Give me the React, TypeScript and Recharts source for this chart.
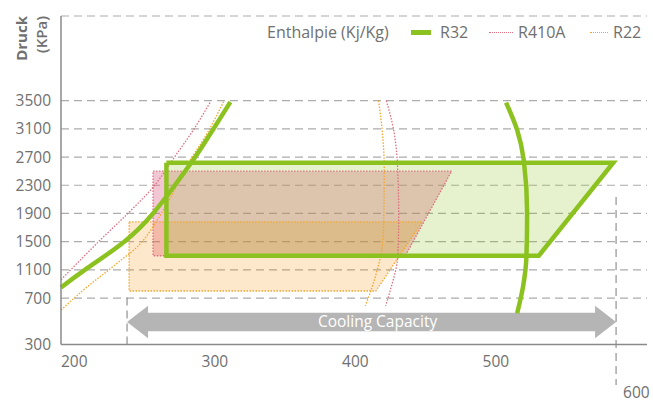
import React from 'react';
import { Area, CartesianGrid, ComposedChart, Line, ReferenceArea, ReferenceLine, XAxis, YAxis } from 'recharts';

const INK = '#707070';
const FONT = "'Open Sans', sans-serif";
const GREEN = '#8cc21f';
const RED = '#dc6f80';
const ORANGE = '#f5a52a';

// axis floor: the "300" label sits on the x axis line
const Y_FLOOR = 41;
const xTicks = [200, 300, 400, 500, 600];
const yTicks = [Y_FLOOR, 700, 1100, 1500, 1900, 2300, 2700, 3100, 3500];
const yTickLabels = ['300', '700', '1100', '1500', '1900', '2300', '2700', '3100', '3500'];

// saturation curves (enthalpy, pressure)
const r32Liquid = [
  { x: 200, y: 850 }, { x: 217, y: 1100 }, { x: 245, y: 1500 }, { x: 265.5, y: 1900 },
  { x: 281, y: 2300 }, { x: 295.5, y: 2700 }, { x: 308.5, y: 3100 }, { x: 320.5, y: 3480 },
];
const r32Vapor = [
  { x: 516.7, y: 3472 }, { x: 524.6, y: 3084 }, { x: 529.3, y: 2659 }, { x: 531.7, y: 1903 },
  { x: 531.2, y: 1287 }, { x: 528.8, y: 862 }, { x: 524.6, y: 484 },
];
const r410aLiquid = [
  { x: 200, y: 960 }, { x: 228, y: 1524 }, { x: 251.5, y: 1978 }, { x: 265.7, y: 2276 },
  { x: 282.8, y: 2758 }, { x: 294.2, y: 3084 }, { x: 306.3, y: 3482 },
];
const r410aVapor = [
  { x: 431.5, y: 3500 }, { x: 436.7, y: 3084 }, { x: 439.6, y: 2517 }, { x: 440.3, y: 1855 },
  { x: 439.6, y: 1287 }, { x: 434.4, y: 815 }, { x: 431, y: 590 },
];
const r22Liquid = [
  { x: 200, y: 530 }, { x: 216, y: 815 }, { x: 239.9, y: 1194 }, { x: 258.8, y: 1525 },
  { x: 273, y: 1950 }, { x: 292, y: 2659 }, { x: 304, y: 3038 }, { x: 315.7, y: 3486 },
];
const r22Vapor = [
  { x: 426, y: 3500 }, { x: 428.5, y: 3084 }, { x: 430, y: 2564 }, { x: 429.6, y: 1761 },
  { x: 427.8, y: 1335 }, { x: 423.7, y: 1004 }, { x: 419, y: 720 }, { x: 416.5, y: 590 },
];

// cycle boxes: top-left, top-right, bottom-right, bottom-left
const r32Box = [{ x: 275, y: 2620 }, { x: 593, y: 2620 }, { x: 540, y: 1300 }, { x: 275, y: 1300 }];
const r410aBox = [{ x: 265.5, y: 2500 }, { x: 478, y: 2500 }, { x: 445, y: 1300 }, { x: 265.5, y: 1300 }];
const r22Box = [{ x: 248.5, y: 1780 }, { x: 457, y: 1780 }, { x: 424, y: 800 }, { x: 248.5, y: 800 }];

const capacity = { from: 247, to: 595, low: 130, high: 590 };

const outline = (box: { x: number; y: number }[]) => [...box, box[0]];
const fillRows = (box: { x: number; y: number }[]) => {
  const [tl, tr, br, bl] = box;
  return [
    { x: bl.x, range: [bl.y, tl.y] },
    { x: br.x, range: [br.y, tl.y] },
    { x: tr.x, range: [tr.y, tr.y] },
  ];
};

function XTick({ x, payload }: any) {
  const last = payload.value === 600;
  return (
    <text x={x} y={last ? 398 : 367} textAnchor="start" fill={INK} fontSize={15.5} fontFamily={FONT}>
      {payload.value}
    </text>
  );
}

function CapacityArrow(props: any) {
  const { x, y, width, height } = props;
  const head = 21;
  const mid = y + height / 2;
  const half = height * 0.285;
  const pts = [
    [x, mid], [x + head, y], [x + head, mid - half], [x + width - head, mid - half],
    [x + width - head, y], [x + width, mid], [x + width - head, y + height],
    [x + width - head, mid + half], [x + head, mid + half], [x + head, y + height],
  ];
  return (
    <g>
      <polygon points={pts.map((p) => p.join(',')).join(' ')} fill="#b5b5b5" />
      <text x={x + width / 2 + 6} y={mid} dy="0.35em" textAnchor="middle" fill="#fff" fontSize={15.5} fontFamily={FONT}>
        Cooling Capacity
      </text>
    </g>
  );
}

function AxisTitle() {
  return (
    <g fill={INK} fontFamily={FONT} fontSize={15} fontWeight={700}>
      <text transform="translate(27,16) rotate(-90)" textAnchor="end">Druck</text>
      <text transform="translate(46.5,16) rotate(-90)" textAnchor="end" fontWeight={600}>(KPa)</text>
    </g>
  );
}

const legendText: React.CSSProperties = { position: 'absolute', top: 21, fontSize: 16, lineHeight: '22px', color: INK };

export default function App() {
  return (
    <div style={{ position: 'absolute', left: 0, top: 0, width: 653, height: 403, fontFamily: FONT, background: '#fff' }}>
      <ComposedChart width={653} height={403} margin={{ top: 16, right: 6, left: 0, bottom: 28.5 }}>
        <CartesianGrid vertical={false} stroke="#acacac" strokeWidth={1.2} strokeDasharray="8 5" />
        <XAxis
          type="number"
          dataKey="x"
          domain={[200, 617]}
          ticks={xTicks}
          height={30}
          tickLine={false}
          axisLine={{ stroke: '#8a8a8a', strokeWidth: 1.5 }}
          tick={<XTick />}
        />
        <YAxis
          type="number"
          dataKey="y"
          domain={[Y_FLOOR, 4701]}
          ticks={yTicks}
          width={61}
          tickLine={false}
          tickMargin={4}
          axisLine={{ stroke: '#8a8a8a', strokeWidth: 1.5 }}
          tick={{ fill: INK, fontSize: 15.5, fontFamily: FONT }}
          tickFormatter={(_v: number, i: number) => yTickLabels[i]}
          label={{ content: () => <AxisTitle /> }}
        />

        <Area data={fillRows(r410aBox)} dataKey="range" type="linear" stroke="none" fill="#dd5c84" fillOpacity={0.35} isAnimationActive={false} />
        <Area data={fillRows(r22Box)} dataKey="range" type="linear" stroke="none" fill="#f58c00" fillOpacity={0.2} isAnimationActive={false} />
        <Area data={fillRows(r32Box)} dataKey="range" type="linear" stroke="none" fill={GREEN} fillOpacity={0.22} isAnimationActive={false} />

        <ReferenceLine segment={[{ x: 247, y: Y_FLOOR }, { x: 247, y: 758 }]} stroke="#9a9a9a" strokeWidth={1.3} strokeDasharray="8 5" />
        <ReferenceLine segment={[{ x: 595, y: 2134 }, { x: 595, y: -535 }]} ifOverflow="visible" stroke="#9a9a9a" strokeWidth={1.3} strokeDasharray="8 5" />

        <Line data={outline(r22Box)} dataKey="y" type="linear" stroke={ORANGE} strokeWidth={1.3} strokeDasharray="1.5 1.5" dot={false} activeDot={false} isAnimationActive={false} />
        <Line data={outline(r410aBox)} dataKey="y" type="linear" stroke={RED} strokeWidth={1.3} strokeDasharray="1.5 1.5" dot={false} activeDot={false} isAnimationActive={false} />
        <Line data={r22Liquid} dataKey="y" type="monotone" stroke={ORANGE} strokeWidth={1.3} strokeDasharray="1.5 1.5" dot={false} activeDot={false} isAnimationActive={false} />
        <Line data={r22Vapor} dataKey="y" type="monotoneY" stroke={ORANGE} strokeWidth={1.3} strokeDasharray="1.5 1.5" dot={false} activeDot={false} isAnimationActive={false} />
        <Line data={r410aLiquid} dataKey="y" type="monotone" stroke={RED} strokeWidth={1.3} strokeDasharray="1.5 1.5" dot={false} activeDot={false} isAnimationActive={false} />
        <Line data={r410aVapor} dataKey="y" type="monotoneY" stroke={RED} strokeWidth={1.3} strokeDasharray="1.5 1.5" dot={false} activeDot={false} isAnimationActive={false} />
        <Line data={outline(r32Box)} dataKey="y" type="linear" stroke={GREEN} strokeWidth={4.5} strokeLinejoin="miter" dot={false} activeDot={false} isAnimationActive={false} />
        <Line data={r32Liquid} dataKey="y" type="natural" stroke={GREEN} strokeWidth={4.5} dot={false} activeDot={false} isAnimationActive={false} />
        <Line data={r32Vapor} dataKey="y" type="monotoneY" stroke={GREEN} strokeWidth={4.5} dot={false} activeDot={false} isAnimationActive={false} />

        <ReferenceArea
          x1={capacity.from}
          x2={capacity.to}
          y1={capacity.low}
          y2={capacity.high}
          shape={(p: any) => <CapacityArrow {...p} />}
        />
      </ComposedChart>

      <span style={{ ...legendText, left: 267 }}>Enthalpie (Kj/Kg)</span>
      <span style={{ position: 'absolute', left: 411, top: 29.5, width: 20, height: 5, background: GREEN }} />
      <span style={{ ...legendText, left: 440 }}>R32</span>
      <span style={{ position: 'absolute', left: 489, top: 31.5, width: 24, borderTop: `1.5px dotted ${RED}` }} />
      <span style={{ ...legendText, left: 518 }}>R410A</span>
      <span style={{ position: 'absolute', left: 590, top: 31.5, width: 18, borderTop: `1.5px dotted ${ORANGE}` }} />
      <span style={{ ...legendText, left: 613 }}>R22</span>
    </div>
  );
}
